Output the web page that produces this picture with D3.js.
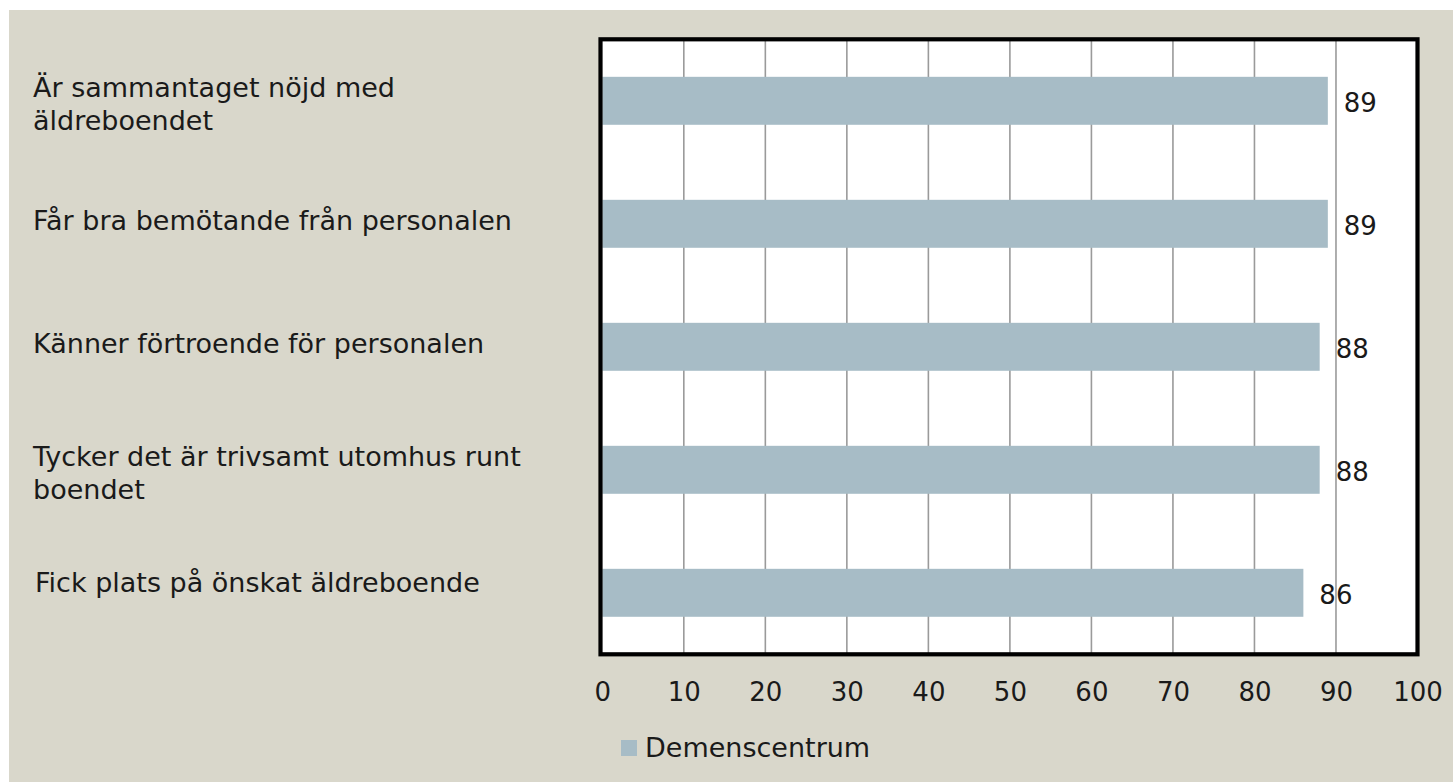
<!doctype html>
<html>
<head>
<meta charset="utf-8">
<script src="https://cdnjs.cloudflare.com/ajax/libs/d3/7.8.5/d3.min.js"></script>
<style>
  body { margin: 0; background: #fff; }
  svg { display: block; }
  .lbl { font-family: "DejaVu Sans", sans-serif; font-size: 27px; fill: #1a1a1a; }
  .num { font-family: "DejaVu Sans", sans-serif; font-size: 26px; fill: #1a1a1a; }
</style>
</head>
<body>
<svg id="chart" width="1453" height="782"></svg>
<script>
// data
var categories = [
  ["Är sammantaget nöjd med", "äldreboendet"],
  ["Får bra bemötande från personalen"],
  ["Känner förtroende för personalen"],
  ["Tycker det är trivsamt utomhus runt", "boendet"],
  ["Fick plats på önskat äldreboende"]
];
var values = [89, 89, 88, 88, 86];
var ticks = [0, 10, 20, 30, 40, 50, 60, 70, 80, 90, 100];
var seriesName = "Demenscentrum";

var svg = d3.select("#chart");

// beige chart area
svg.append("rect")
  .attr("x", 9).attr("y", 10)
  .attr("width", 1453 - 9).attr("height", 782 - 10)
  .attr("fill", "#d9d7cb");

var pLeft = 600.5, pRight = 1417.5, pTop = 39.3, pBottom = 654.3;

var x = d3.scaleLinear().domain([0, 100]).range([602.3, pRight]);
var y = d3.scaleBand()
  .domain(d3.range(categories.length))
  .range([pTop, pBottom])
  .paddingInner(0.61)
  .paddingOuter(0.305);

// plot area
svg.append("rect")
  .attr("x", pLeft).attr("y", pTop)
  .attr("width", pRight - pLeft).attr("height", pBottom - pTop)
  .attr("fill", "#fff");

// grid lines
svg.append("g")
  .selectAll("line")
  .data(ticks.slice(1))
  .enter().append("line")
  .attr("x1", d => x(d)).attr("x2", d => x(d))
  .attr("y1", pTop).attr("y2", pBottom)
  .attr("stroke", "#9a9a9a")
  .attr("stroke-width", 1.6);

// bars
svg.append("g")
  .selectAll("rect")
  .data(values)
  .enter().append("rect")
  .attr("x", x(0))
  .attr("y", (d, i) => y(i))
  .attr("width", d => x(d) - x(0))
  .attr("height", y.bandwidth())
  .attr("fill", "#a7bcc6");

// value labels
svg.append("g")
  .selectAll("text")
  .data(values)
  .enter().append("text")
  .attr("class", "num")
  .attr("x", d => x(d) + 16)
  .attr("y", (d, i) => y(i) + y.bandwidth() / 2 + 11.5)
  .text(d => d);

// border
svg.append("rect")
  .attr("x", pLeft).attr("y", pTop)
  .attr("width", pRight - pLeft).attr("height", pBottom - pTop)
  .attr("fill", "none")
  .attr("stroke", "#000")
  .attr("stroke-width", 4.2);

// x axis
var xAxis = d3.axisBottom(x).tickValues(ticks).tickSize(0).tickPadding(0);
var gx = svg.append("g")
  .attr("transform", "translate(0," + 700.7 + ")")
  .call(xAxis);
gx.select(".domain").remove();
gx.attr("font-family", null).attr("font-size", null);
gx.selectAll("text")
  .attr("class", "num")
  .attr("dy", 0)
  .attr("y", 0)
  .attr("fill", "#1a1a1a");

// category labels (last one sits a bit higher and further in, as in the original)
var cat = svg.append("g")
  .selectAll("text")
  .data(categories)
  .enter().append("text")
  .attr("class", "lbl")
  .attr("y", (d, i) => {
    var c = y(i) + y.bandwidth() / 2;
    if (d.length > 1) return c - 4;
    return i === categories.length - 1 ? c - 1 : c + 6;
  });
cat.selectAll("tspan")
  .data((d, i) => d.map(t => ({t: t, last: i === categories.length - 1})))
  .enter().append("tspan")
  .attr("x", d => d.last ? 35 : 33)
  .attr("dy", (d, j) => j === 0 ? 0 : 33.5)
  .text(d => d.t);

// legend
var lg = svg.append("g");
lg.append("rect")
  .attr("x", 621).attr("y", 740)
  .attr("width", 16).attr("height", 16)
  .attr("fill", "#a7bcc6");
lg.append("text")
  .attr("class", "lbl")
  .attr("x", 645).attr("y", 757.3)
  .text(seriesName);
</script>
</body>
</html>
